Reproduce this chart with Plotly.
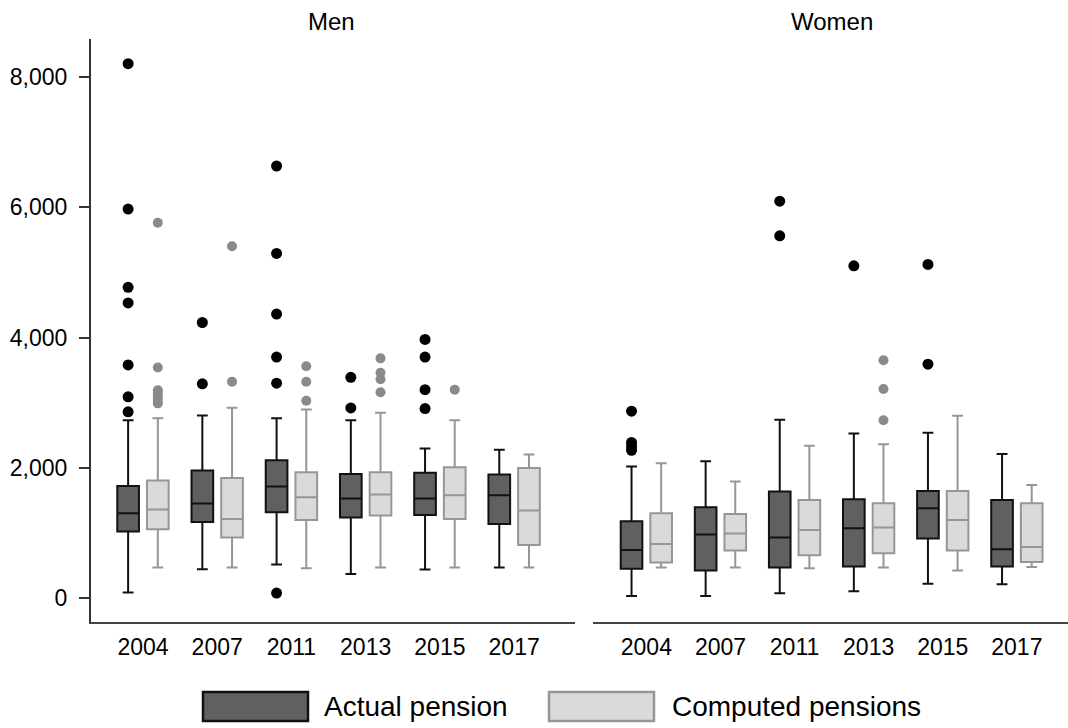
import plotly.graph_objects as go

W, H = 1068, 728

years = ["2004", "2007", "2011", "2013", "2015", "2017"]

# Men: actual pension box statistics
men_act_low = [90, 445, 517, 373, 440, 471]
men_act_q1 = [1024, 1172, 1320, 1238, 1279, 1141]
men_act_med = [1305, 1453, 1714, 1530, 1530, 1581]
men_act_q3 = [1724, 1960, 2118, 1908, 1924, 1898]
men_act_up = [2732, 2804, 2763, 2732, 2297, 2277]

# Men: computed pensions box statistics
men_cmp_low = [471, 471, 460, 471, 471, 471]
men_cmp_q1 = [1059, 931, 1202, 1269, 1218, 818]
men_cmp_med = [1361, 1218, 1550, 1591, 1581, 1346]
men_cmp_q3 = [1806, 1847, 1934, 1934, 2011, 2000]
men_cmp_up = [2763, 2922, 2896, 2845, 2732, 2205]

# Women: actual pension box statistics
wom_act_low = [36, 36, 77, 107, 225, 215]
wom_act_q1 = [455, 425, 471, 486, 916, 486]
wom_act_med = [742, 977, 931, 1074, 1382, 752]
wom_act_q3 = [1182, 1397, 1637, 1520, 1647, 1509]
wom_act_up = [2021, 2103, 2737, 2528, 2538, 2215]

# Women: computed pensions box statistics
wom_cmp_low = [471, 471, 460, 471, 425, 481]
wom_cmp_q1 = [548, 732, 660, 691, 732, 557]
wom_cmp_med = [834, 993, 1049, 1085, 1202, 788]
wom_cmp_q3 = [1305, 1294, 1509, 1458, 1647, 1458]
wom_cmp_up = [2072, 1791, 2338, 2364, 2799, 1739]

# Outliers (year, value)
men_act_out_year = ["2004"] * 7 + ["2007"] * 2 + ["2011"] * 6 + ["2013"] * 2 + ["2015"] * 4
men_act_out_val = [8200, 5970, 4770, 4530, 3580, 3090, 2860,
                   4230, 3290,
                   6630, 5290, 4360, 3700, 3300, 80,
                   3390, 2920,
                   3970, 3700, 3200, 2910]
men_cmp_out_year = ["2004"] * 7 + ["2007"] * 2 + ["2011"] * 3 + ["2013"] * 4 + ["2015"]
men_cmp_out_val = [5760, 3540, 3190, 3140, 3090, 3040, 2990,
                   5400, 3320,
                   3560, 3320, 3030,
                   3680, 3460, 3360, 3160,
                   3200]
wom_act_out_year = ["2004"] * 4 + ["2011"] * 2 + ["2013"] + ["2015"] * 2
wom_act_out_val = [2870, 2390, 2330, 2270, 6090, 5560, 5100, 5120, 3590]
wom_cmp_out_year = ["2013"] * 3
wom_cmp_out_val = [3650, 3210, 2730]

ACT_FILL, ACT_LINE = "#606060", "#111111"
CMP_FILL, CMP_LINE = "#dadada", "#969696"
FONT = "Liberation Sans, Arial, sans-serif"


def px(x):
    return x / W


def py(y):
    return 1 - y / H


fig = go.Figure()

panels = [
    ("x", "y", (men_act_low, men_act_q1, men_act_med, men_act_q3, men_act_up),
     (men_cmp_low, men_cmp_q1, men_cmp_med, men_cmp_q3, men_cmp_up),
     (men_act_out_year, men_act_out_val), (men_cmp_out_year, men_cmp_out_val)),
    ("x2", "y2", (wom_act_low, wom_act_q1, wom_act_med, wom_act_q3, wom_act_up),
     (wom_cmp_low, wom_cmp_q1, wom_cmp_med, wom_cmp_q3, wom_cmp_up),
     (wom_act_out_year, wom_act_out_val), (wom_cmp_out_year, wom_cmp_out_val)),
]

for xa, ya, act, cmp_, act_out, cmp_out in panels:
    for name, stats, fill, line in [("Actual pension", act, ACT_FILL, ACT_LINE),
                                     ("Computed pensions", cmp_, CMP_FILL, CMP_LINE)]:
        low, q1, med, q3, up = stats
        fig.add_trace(go.Box(
            x=years, lowerfence=low, q1=q1, median=med, q3=q3, upperfence=up,
            name=name, offsetgroup=name, fillcolor=fill,
            line=dict(color=line, width=2), whiskerwidth=0.5,
            boxpoints=False, showlegend=False, hoverinfo="skip",
            xaxis=xa, yaxis=ya,
        ))
    for name, (oy, ov), col, size in [("Actual pension", act_out, "#000000", 11),
                                        ("Computed pensions", cmp_out, "#8a8a8a", 10)]:
        fig.add_trace(go.Scatter(
            x=oy, y=ov, mode="markers", name=name, offsetgroup=name,
            marker=dict(color=col, size=size, line=dict(width=0)),
            showlegend=False, hoverinfo="skip", xaxis=xa, yaxis=ya,
        ))

y_dom = [py(622.3), py(39)]
y_rng = [-368, 8578]
tickfont = dict(family=FONT, size=23, color="#000000")

fig.update_layout(
    width=W, height=H,
    margin=dict(l=0, r=0, t=0, b=0),
    paper_bgcolor="white", plot_bgcolor="white",
    boxmode="group", boxgap=0.2, boxgroupgap=0.27,
    scattermode="group", scattergap=0.2,
    showlegend=False,
    xaxis=dict(domain=[px(91), px(575)], type="category", categoryorder="array",
               categoryarray=years, range=[-0.70, 5.82], showline=True,
               linecolor="#444444", linewidth=2, ticks="", showgrid=False,
               zeroline=False, tickfont=tickfont, ticklabelstandoff=3),
    xaxis2=dict(domain=[px(593), 1.0], type="category", categoryorder="array",
                categoryarray=years, range=[-0.72, 5.69], showline=True,
                linecolor="#444444", linewidth=2, ticks="", showgrid=False,
                zeroline=False, tickfont=tickfont, ticklabelstandoff=3),
    yaxis=dict(domain=y_dom, range=y_rng, anchor="x", showline=True,
               linecolor="#333333", linewidth=2, ticks="outside", ticklen=10,
               tickwidth=1.5, tickcolor="#333333", tickvals=[0, 2000, 4000, 6000, 8000],
               tickformat=",d", showgrid=False, zeroline=False, tickfont=tickfont,
               ticklabelstandoff=7),
    yaxis2=dict(domain=y_dom, range=y_rng, anchor="x2", matches="y", visible=False),
)

# Panel titles
for label, cx in [("Men", 331), ("Women", 832)]:
    fig.add_annotation(x=px(cx), y=py(21), xref="paper", yref="paper", text=label,
                       showarrow=False, xanchor="center", yanchor="middle",
                       font=dict(family=FONT, size=24, color="#000000"))

# Legend drawn below the panels
for label, bx, tx, fill, line in [("Actual pension", 203, 322, ACT_FILL, ACT_LINE),
                                   ("Computed pensions", 549, 670, CMP_FILL, CMP_LINE)]:
    fig.add_shape(type="rect", xref="paper", yref="paper",
                  x0=px(bx), x1=px(bx + 105), y0=py(721), y1=py(692),
                  fillcolor=fill, line=dict(color=line, width=2.5))
    fig.add_annotation(x=px(tx), y=py(706), xref="paper", yref="paper", text=label,
                       showarrow=False, xanchor="left", yanchor="middle",
                       font=dict(family=FONT, size=28, color="#000000"))

fig.write_html("out.html")
